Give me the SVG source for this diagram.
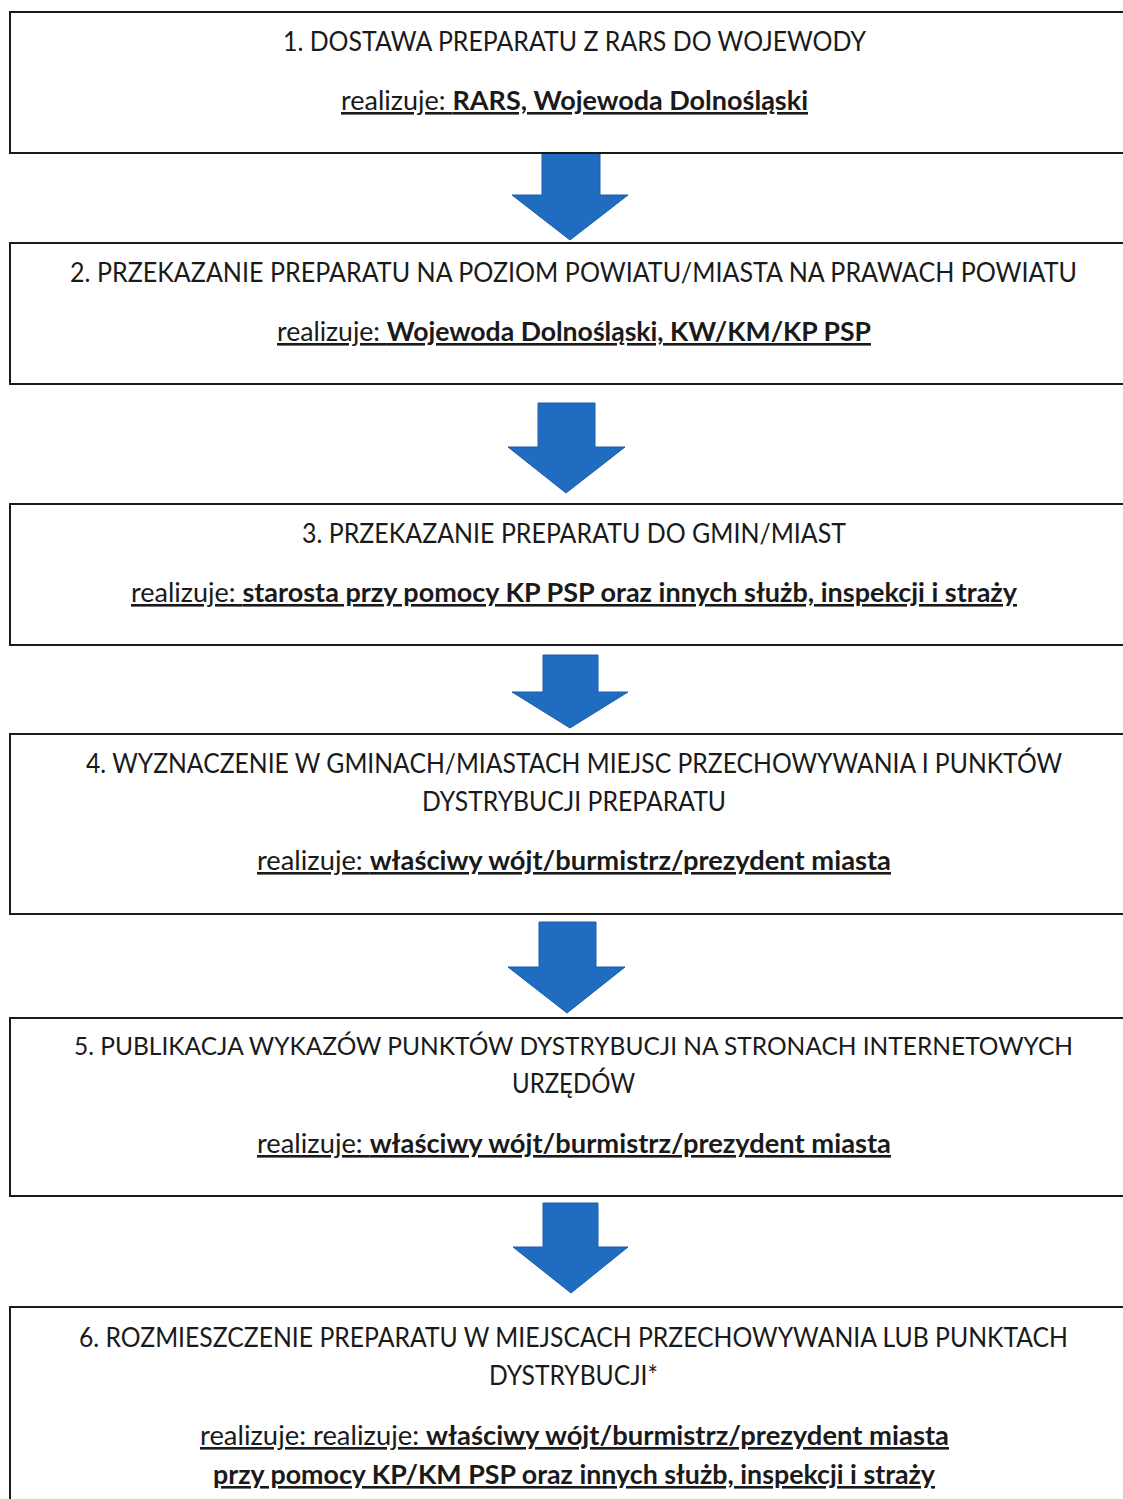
<svg xmlns="http://www.w3.org/2000/svg" width="1123" height="1499" viewBox="0 0 1123 1499">
<style>
.box{fill:#ffffff;stroke:#1a1a1a;stroke-width:2}
.t{font-family:Lato,"Liberation Sans",Arial,sans-serif;font-size:26px;fill:#1a1a1a;text-anchor:middle}
.u{text-decoration:underline}
.b{font-weight:bold}
.arr{fill:#1f6cc0;stroke:#1a5eaa;stroke-width:1}
</style>
<rect width="1123" height="1499" fill="#ffffff"/>
<g id="connectors">
<path class="arr" d="M542,153 L600,153 L600,195 L628,195 L570,240 L512,195 L542,195 Z"/>
<path class="arr" d="M538,403 L595,403 L595,447 L625,447 L566,493 L508,447 L538,447 Z"/>
<path class="arr" d="M543,655 L598,655 L598,692 L628,692 L570,728 L512,692 L543,692 Z"/>
<path class="arr" d="M539,922 L596,922 L596,967 L625,967 L567,1013 L508,967 L539,967 Z"/>
<path class="arr" d="M543,1203 L598,1203 L598,1247 L628,1247 L571,1293 L513,1247 L543,1247 Z"/>
</g>
<g id="node1">
<path class="box" d="M1123,12 H10 V153 H1123"/>
<text class="t" x="574.5" y="51" textLength="583" lengthAdjust="spacingAndGlyphs">1. DOSTAWA PREPARATU Z RARS DO WOJEWODY</text>
<text class="t u" x="574.5" y="110" textLength="467" lengthAdjust="spacingAndGlyphs">realizuje: <tspan class="b">RARS, Wojewoda Dolnośląski</tspan></text>
</g>
<g id="node2">
<path class="box" d="M1123,243 H10 V384 H1123"/>
<text class="t" x="573.5" y="282" textLength="1007" lengthAdjust="spacingAndGlyphs">2. PRZEKAZANIE PREPARATU NA POZIOM POWIATU/MIASTA NA PRAWACH POWIATU</text>
<text class="t u" x="574" y="341" textLength="594" lengthAdjust="spacingAndGlyphs">realizuje: <tspan class="b">Wojewoda Dolnośląski, KW/KM/KP PSP</tspan></text>
</g>
<g id="node3">
<path class="box" d="M1123,504 H10 V645 H1123"/>
<text class="t" x="574" y="543" textLength="544" lengthAdjust="spacingAndGlyphs">3. PRZEKAZANIE PREPARATU DO GMIN/MIAST</text>
<text class="t u" x="574" y="602" textLength="886" lengthAdjust="spacingAndGlyphs">realizuje: <tspan class="b">starosta przy pomocy KP PSP oraz innych służb, inspekcji i straży</tspan></text>
</g>
<g id="node4">
<path class="box" d="M1123,734 H10 V914 H1123"/>
<text class="t" x="574" y="773" textLength="976" lengthAdjust="spacingAndGlyphs">4. WYZNACZENIE W GMINACH/MIASTACH MIEJSC PRZECHOWYWANIA I PUNKTÓW</text>
<text class="t" x="574" y="811" textLength="304" lengthAdjust="spacingAndGlyphs">DYSTRYBUCJI PREPARATU</text>
<text class="t u" x="574" y="870" textLength="634" lengthAdjust="spacingAndGlyphs">realizuje: <tspan class="b">właściwy wójt/burmistrz/prezydent miasta</tspan></text>
</g>
<g id="node5">
<path class="box" d="M1123,1018 H10 V1196 H1123"/>
<text class="t" x="573.5" y="1055" font-size="25" style="font-size:25px" textLength="999" lengthAdjust="spacingAndGlyphs">5. PUBLIKACJA WYKAZÓW PUNKTÓW DYSTRYBUCJI NA STRONACH INTERNETOWYCH</text>
<text class="t" x="573.5" y="1093" textLength="123" lengthAdjust="spacingAndGlyphs">URZĘDÓW</text>
<text class="t u" x="574" y="1153" textLength="634" lengthAdjust="spacingAndGlyphs">realizuje: <tspan class="b">właściwy wójt/burmistrz/prezydent miasta</tspan></text>
</g>
<g id="node6">
<path class="box" d="M1123,1307 H10 V1499"/>
<text class="t" x="573.5" y="1347" textLength="989" lengthAdjust="spacingAndGlyphs">6. ROZMIESZCZENIE PREPARATU W MIEJSCACH PRZECHOWYWANIA LUB PUNKTACH</text>
<text class="t" x="573.5" y="1385" textLength="169" lengthAdjust="spacingAndGlyphs">DYSTRYBUCJI*</text>
<text class="t u" x="574.5" y="1445" textLength="749" lengthAdjust="spacingAndGlyphs">realizuje: realizuje: <tspan class="b">właściwy wójt/burmistrz/prezydent miasta</tspan></text>
<text class="t u b" x="574" y="1484" textLength="722" lengthAdjust="spacingAndGlyphs">przy pomocy KP/KM PSP oraz innych służb, inspekcji i straży</text>
</g>
</svg>
